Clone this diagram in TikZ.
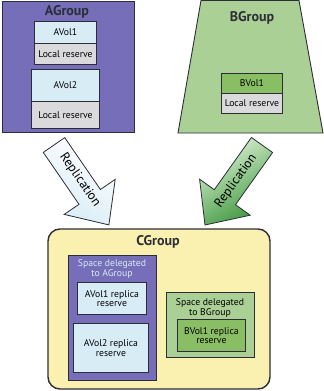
\documentclass[tikz,border=0pt]{standalone}
\usepackage{fontspec}
\setmainfont{PT Sans}
\begin{document}
\begin{tikzpicture}[x=1pt,y=-1pt,
  every node/.style={font=\fontsize{9.7}{10.5}\selectfont, align=center, inner sep=0pt},
  edge/.style={draw=lineC, line width=0.9pt},
  box/.style={edge, rectangle, anchor=north west},
  ttl/.style={font=\fontsize{14}{15}\bfseries\selectfont, text=lineC},
  rep/.style={font=\fontsize{13}{14}\selectfont}]
\definecolor{lineC}{RGB}{45,45,55}
\definecolor{purp}{RGB}{118,110,184}
\definecolor{lblue}{RGB}{216,236,246}
\definecolor{lgray}{RGB}{218,218,220}
\definecolor{bgreen}{RGB}{170,208,150}
\definecolor{dgreen}{RGB}{138,190,100}
\definecolor{yell}{RGB}{250,241,176}
\definecolor{arrgreen}{RGB}{60,150,60}
\definecolor{arrlgreen}{RGB}{222,242,214}
\useasboundingbox (0,0) rectangle (324,391);
\fill[white] (0,0) rectangle (324,391);
% AGroup
\node[box, fill=purp, minimum width=132pt, minimum height=131pt] (agroup) at (2,1) {};
\node[ttl] (atitle) at (67,12) {AGroup};
\node[box, fill=lblue, minimum width=62pt, minimum height=22pt] (avol1) at (34,21) {};
\node at (avol1.center) {AVol1};
\node[box, fill=lgray, minimum width=62pt, minimum height=21pt] (alr1) at (34,43) {};
\node at (alr1.center) {Local reserve};
\node[box, fill=lblue, minimum width=68pt, minimum height=32pt] (avol2) at (31,69) {};
\node at (avol2.center) {AVol2};
\node[box, fill=lgray, minimum width=68pt, minimum height=27pt] (alr2) at (31,101) {};
\node at (alr2.center) {Local reserve};
% BGroup
\draw[edge, fill=bgreen] (201,0.5) -- (299,0.5) -- (323,133) -- (178,133) -- cycle;
\node[ttl] (btitle) at (252,18) {BGroup};
\node[box, fill=dgreen, minimum width=61pt, minimum height=20pt] (bvol1) at (221,73) {};
\node at (bvol1.center) {BVol1};
\node[box, fill=lgray, minimum width=61pt, minimum height=20pt] (blr1) at (221,93) {};
\node at (blr1.center) {Local reserve};
% CGroup
\draw[draw=lineC, line width=1.4pt, fill=yell, rounded corners=12pt] (48,229) rectangle (270,389);
\node[ttl] (ctitle) at (158,242) {CGroup};
\node[box, fill=purp, minimum width=88pt, minimum height=125pt] (spa) at (68,255) {};
\node[text=lblue] (spatxt) at (112,269) {Space delegated\\[-1pt]to AGroup};
\node[box, fill=lblue, minimum width=69pt, minimum height=32pt] (ar1) at (77,282) {};
\node at (ar1.center) {AVol1 replica\\[-1pt]reserve};
\node[box, fill=lblue, minimum width=75pt, minimum height=49pt] (ar2) at (73,323) {};
\node at (ar2.center) {AVol2 replica\\[-1pt]reserve};
\node[box, fill=bgreen, minimum width=88pt, minimum height=65pt] (spb) at (166,292) {};
\node (spbtxt) at (210,308) {Space delegated\\[-1pt]to BGroup};
\node[box, fill=dgreen, minimum width=68pt, minimum height=32pt] (br1) at (177,319) {};
\node at (br1.center) {BVol1 replica\\[-1pt]reserve};
% Replication arrows
\draw[edge, line width=0.8pt, top color=white, bottom color=lblue, shading angle=-30]
  (64.7,137.6) -- (43.3,152.4) -- (79.0,204.3) -- (64.2,214.4) -- (108.9,224.9)
  -- (115.2,179.4) -- (100.4,189.5) -- cycle;
\node[rotate=-55.5, rep] (repA) at (80,180) {Replication};
\draw[edge, line width=0.8pt, top color=arrlgreen, bottom color=arrgreen, shading angle=30]
  (272.6,152.5) -- (251.4,137.5) -- (214.3,189.7) -- (199.6,179.2) -- (205,225)
  -- (250.2,215.2) -- (235.5,204.7) -- cycle;
\node[rotate=54.5, rep] (repB) at (236,181) {Replication};
\end{tikzpicture}
\end{document}
